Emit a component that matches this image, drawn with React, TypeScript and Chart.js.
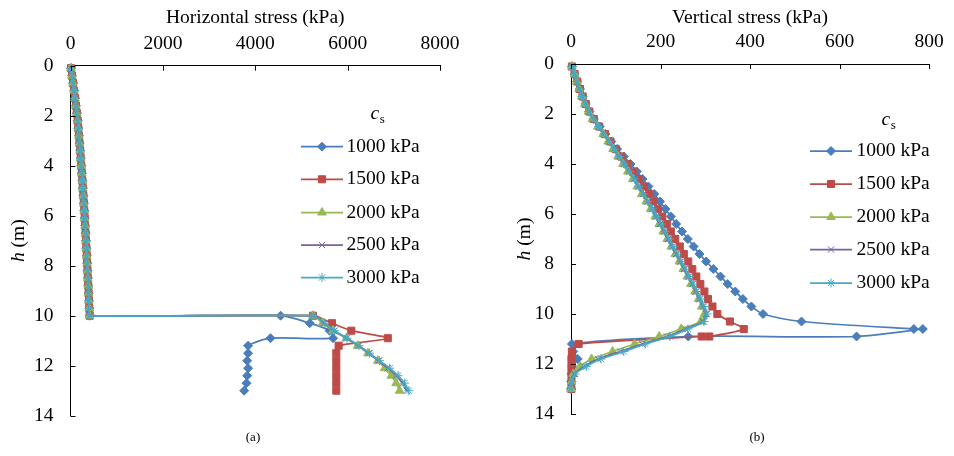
import React, { useEffect, useRef } from 'react';
import { Chart, registerables } from 'chart.js';
import { drawPoint } from 'chart.js/helpers';

Chart.register(...registerables);

const FONT = '"Liberation Serif", "Times New Roman", serif';
const FS = 19.5;

// ---------- shared categories ----------
const seriesNames = ['1000 kPa', '1500 kPa', '2000 kPa', '2500 kPa', '3000 kPa'];
const hTicks = [0, 2, 4, 6, 8, 10, 12, 14];
const horizTicks = [0, 2000, 4000, 6000, 8000];
const vertTicks = [0, 200, 400, 600, 800];

// depth of points above the interface (m)
const depthShallow = [0.1, 0.4, 0.7, 1.0, 1.3, 1.6, 1.9, 2.2, 2.5, 2.8, 3.1, 3.4, 3.7, 4.0, 4.3, 4.6, 4.9, 5.2, 5.5, 5.8, 6.1, 6.4, 6.7, 7.0, 7.3, 7.6, 7.9, 8.2, 8.5, 8.8, 9.1, 9.4, 9.7, 10.0];

// ---------- (a) horizontal stress (kPa) ----------
const hzShallow1000 = [12, 34, 56, 78, 99, 119, 139, 156, 170, 184, 197, 210, 222, 234, 246, 257, 268, 279, 289, 299, 309, 318, 327, 336, 345, 353, 361, 369, 377, 385, 393, 401, 408, 416];
const hzShallow1500 = [11, 33, 55, 77, 98, 118, 138, 155, 169, 183, 196, 209, 221, 233, 245, 256, 267, 278, 288, 298, 308, 317, 326, 335, 344, 352, 360, 368, 376, 384, 392, 400, 407, 415];
const hzShallow2000 = [9, 31, 53, 75, 96, 116, 136, 153, 167, 181, 194, 207, 219, 231, 243, 254, 265, 276, 286, 296, 306, 315, 324, 333, 342, 350, 358, 366, 374, 382, 390, 398, 405, 413];
const hzShallow2500 = [10, 32, 54, 76, 97, 117, 137, 154, 168, 182, 195, 208, 220, 232, 244, 255, 266, 277, 287, 297, 307, 316, 325, 334, 343, 351, 359, 367, 375, 383, 391, 399, 406, 414];
const hzShallow3000 = [10, 32, 54, 76, 97, 117, 137, 154, 168, 182, 195, 208, 220, 232, 244, 255, 266, 277, 287, 297, 307, 316, 325, 334, 343, 351, 359, 367, 375, 383, 391, 399, 406, 414];

const hzDepthDeep1000 = [10.0, 10.3, 10.6, 10.9, 10.9, 11.2, 11.5, 11.8, 12.1, 12.4, 12.7, 13.0];
const hzDeep1000 = [4550, 5180, 5610, 5685, 4330, 3845, 3845, 3825, 3845, 3825, 3810, 3760];
const hzDepthDeep = [10.0, 10.3, 10.6, 10.9, 11.2, 11.5, 11.8, 12.1, 12.4, 12.7, 13.0];
const hzDeep1500 = [5250, 5660, 6080, 6870, 5805, 5755, 5755, 5755, 5755, 5755, 5755];
const hzDeep2000 = [5250, 5455, 5685, 5970, 6220, 6440, 6655, 6800, 6945, 7050, 7125];
const hzDeep2500 = [5250, 5495, 5710, 5975, 6235, 6460, 6670, 6870, 7050, 7190, 7280];
const hzDeep3000 = [5250, 5505, 5720, 5985, 6245, 6475, 6690, 6910, 7090, 7230, 7325];

// ---------- (b) vertical stress (kPa) ----------
const vtShallow1000 = [2, 8, 14, 20, 26, 33, 41, 51, 64, 77, 90, 103, 118, 133, 147, 160, 173, 186, 199, 211, 223, 235, 248, 261, 274, 287, 302, 318, 334, 350, 367, 384, 403, 429];
const vtShallow1500 = [2, 8, 14, 20, 26, 33, 41, 51, 63, 76, 88, 100, 112, 125, 138, 151, 163, 174, 184, 194, 204, 214, 223, 233, 243, 252, 262, 271, 280, 289, 298, 306, 316, 327];
const vtShallow2000 = [2, 8, 13, 18, 24, 31, 39, 48, 60, 72, 83, 94, 105, 116, 127, 138, 148, 158, 168, 178, 188, 197, 206, 215, 224, 233, 242, 251, 260, 268, 277, 285, 292, 298];
const vtShallow2500 = [2, 8, 13, 19, 25, 32, 40, 50, 61, 73, 85, 96, 107, 119, 130, 141, 151, 161, 171, 181, 190, 199, 208, 217, 226, 235, 244, 253, 262, 271, 279, 287, 295, 302];
const vtShallow3000 = [2, 8, 13, 19, 25, 32, 40, 50, 62, 74, 86, 97, 108, 120, 131, 142, 152, 162, 172, 182, 192, 201, 210, 219, 228, 237, 246, 255, 264, 273, 281, 289, 297, 304];

const vtDepthDeep1000 = [10.3, 10.6, 10.6, 10.9, 10.9, 11.2, 11.5, 11.8, 12.1, 12.4, 12.7, 13.0];
const vtDeep1000 = [515, 766, 786, 638, 262, 2, 5, 15, 3, 1, 0, 0];
const vtDepthDeep1500 = [10.3, 10.6, 10.9, 10.9, 11.2, 11.5, 11.8, 12.1, 12.4, 12.7, 13.0];
const vtDeep1500 = [355, 386, 309, 292, 17, 2, 1, 1, 1, 1, 1];
const vtDepthDeep = [10.3, 10.6, 10.9, 11.2, 11.5, 11.8, 12.1, 12.4, 12.7, 13.0];
const vtDeep2000 = [290, 246, 197, 142, 93, 46, 20, 5, 1, 0];
const vtDeep2500 = [294, 256, 214, 159, 110, 60, 29, 7, 1, 0];
const vtDeep3000 = [297, 261, 221, 166, 118, 67, 34, 9, 2, 0];

// ---------- styles ----------
const lineColors = ['#4A7EBB', '#BE4B48', '#98B954', '#7D60A0', '#46AAC5'];
const pointStyles = ['rectRot', 'rect', 'triangle', 'crossRot', 'star'];
const pointRadii = [4.5, 5, 5, 4.5, 4.5];

function joinSeries(d1: number[], v1: number[], d2: number[], v2: number[]) {
  return d1.map((h, k) => ({ x: v1[k], y: h })).concat(d2.map((h, k) => ({ x: v2[k], y: h })));
}

const horizData = [
  joinSeries(depthShallow, hzShallow1000, hzDepthDeep1000, hzDeep1000),
  joinSeries(depthShallow, hzShallow1500, hzDepthDeep, hzDeep1500),
  joinSeries(depthShallow, hzShallow2000, hzDepthDeep, hzDeep2000),
  joinSeries(depthShallow, hzShallow2500, hzDepthDeep, hzDeep2500),
  joinSeries(depthShallow, hzShallow3000, hzDepthDeep, hzDeep3000),
];
const vertData = [
  joinSeries(depthShallow, vtShallow1000, vtDepthDeep1000, vtDeep1000),
  joinSeries(depthShallow, vtShallow1500, vtDepthDeep1500, vtDeep1500),
  joinSeries(depthShallow, vtShallow2000, vtDepthDeep, vtDeep2000),
  joinSeries(depthShallow, vtShallow2500, vtDepthDeep, vtDeep2500),
  joinSeries(depthShallow, vtShallow3000, vtDepthDeep, vtDeep3000),
];

type Cfg = {
  data: { x: number; y: number }[][];
  xTitle: string;
  xMax: number;
  xTicks: number[];
  topH: number;
  leftW: number;
  padRight: number;
  padBottom: number;
  yTitleX: number;
  legend: { x1: number; x2: number; textX: number; rows: number[]; titleX: number; titleBase: number };
};

function decorPlugin(cfg: Cfg) {
  return {
    id: 'decor',
    afterDraw(chart: any) {
      const ctx: CanvasRenderingContext2D = chart.ctx;
      const xs = chart.scales.x;
      const ys = chart.scales.y;
      const area = chart.chartArea;
      ctx.save();
      // inner tick marks
      ctx.strokeStyle = '#000';
      ctx.lineWidth = 1;
      ctx.beginPath();
      for (const v of cfg.xTicks) {
        const px = Math.round(xs.getPixelForValue(v)) + 0.5;
        ctx.moveTo(px, area.top);
        ctx.lineTo(px, area.top + 5);
      }
      for (const v of hTicks) {
        const py = Math.round(ys.getPixelForValue(v)) + 0.5;
        ctx.moveTo(area.left, py);
        ctx.lineTo(area.left + 5, py);
      }
      ctx.stroke();

      // y title  "h (m)"
      const italic = `italic ${FS}px ${FONT}`;
      const normal = `${FS}px ${FONT}`;
      ctx.save();
      ctx.translate(cfg.yTitleX, (area.top + area.bottom) / 2);
      ctx.rotate(-Math.PI / 2);
      ctx.fillStyle = '#000';
      ctx.textBaseline = 'middle';
      ctx.textAlign = 'left';
      ctx.font = italic;
      const w1 = ctx.measureText('h').width;
      ctx.font = normal;
      const w2 = ctx.measureText(' (m)').width;
      const x0 = -(w1 + w2) / 2;
      ctx.font = italic;
      ctx.fillText('h', x0, 0);
      ctx.font = normal;
      ctx.fillText(' (m)', x0 + w1, 0);
      ctx.restore();

      // legend
      const lg = cfg.legend;
      for (let i = 0; i < seriesNames.length; i++) {
        const y = lg.rows[i];
        ctx.strokeStyle = lineColors[i];
        ctx.lineWidth = 1.75;
        ctx.beginPath();
        ctx.moveTo(lg.x1, y);
        ctx.lineTo(lg.x2, y);
        ctx.stroke();
        ctx.fillStyle = lineColors[i];
        ctx.strokeStyle = lineColors[i];
        ctx.lineWidth = 1;
        drawPoint(ctx, { pointStyle: pointStyles[i] as any, radius: pointRadii[i], rotation: 0, borderWidth: 1 } as any, (lg.x1 + lg.x2) / 2, y);
        ctx.fillStyle = '#000';
        ctx.font = normal;
        ctx.textBaseline = 'middle';
        ctx.textAlign = 'left';
        ctx.fillText(seriesNames[i], lg.textX, y);
      }
      ctx.fillStyle = '#000';
      ctx.textBaseline = 'alphabetic';
      ctx.textAlign = 'left';
      ctx.font = italic;
      ctx.fillText('c', lg.titleX, lg.titleBase);
      const cw = ctx.measureText('c').width;
      ctx.font = `13px ${FONT}`;
      ctx.fillText('s', lg.titleX + cw + 0.5, lg.titleBase + 3.5);
      ctx.restore();
    },
  };
}

function makeConfig(cfg: Cfg): any {
  return {
    type: 'line',
    data: {
      datasets: cfg.data.map((d, i) => ({
        label: seriesNames[i],
        data: d,
        borderColor: lineColors[i],
        backgroundColor: lineColors[i],
        pointBackgroundColor: lineColors[i],
        pointBorderColor: lineColors[i],
        pointStyle: pointStyles[i],
        pointRadius: pointRadii[i],
        pointHoverRadius: pointRadii[i],
        pointBorderWidth: 1,
        borderWidth: 1.75,
        tension: 0.25,
        clip: false,
        order: 5 - i,
      })),
    },
    options: {
      responsive: false,
      animation: false,
      events: [],
      layout: { padding: { left: 0, top: 0, right: cfg.padRight, bottom: cfg.padBottom } },
      plugins: { legend: { display: false }, tooltip: { enabled: false } },
      scales: {
        x: {
          type: 'linear',
          position: 'top',
          min: 0,
          max: cfg.xMax,
          grid: { display: false, drawTicks: false },
          border: { display: true, color: '#000', width: 1 },
          ticks: {
            color: '#000',
            font: { family: FONT, size: FS },
            padding: 10.3,
            autoSkip: false,
            maxRotation: 0,
            callback: (v: any) => String(v),
          },
          title: {
            display: true,
            text: cfg.xTitle,
            color: '#000',
            font: { family: FONT, size: FS },
            padding: { top: 5.8, bottom: 0 },
          },
          afterBuildTicks: (s: any) => {
            s.ticks = cfg.xTicks.map((v) => ({ value: v }));
          },
          afterFit: (s: any) => {
            s.height = cfg.topH;
          },
        },
        y: {
          type: 'linear',
          position: 'left',
          reverse: true,
          min: 0,
          max: 14,
          grid: { display: false, drawTicks: false },
          border: { display: true, color: '#000', width: 1 },
          ticks: {
            color: '#000',
            font: { family: FONT, size: FS },
            padding: 17,
            autoSkip: false,
            callback: (v: any) => String(v),
          },
          title: { display: false },
          afterBuildTicks: (s: any) => {
            s.ticks = hTicks.map((v) => ({ value: v }));
          },
          afterFit: (s: any) => {
            s.width = cfg.leftW;
          },
        },
      },
    },
    plugins: [decorPlugin(cfg)],
  };
}

const leftCfg: Cfg = {
  data: horizData,
  xTitle: 'Horizontal stress (kPa)',
  xMax: 8000,
  xTicks: horizTicks,
  topH: 65.7,
  leftW: 70.5,
  padRight: 37,
  padBottom: 40.3,
  yTitleX: 19,
  legend: { x1: 301, x2: 343, textX: 346.5, rows: [146.7, 179.3, 212.5, 245, 277.5], titleX: 370.5, titleBase: 119 },
};

const rightCfg: Cfg = {
  data: vertData,
  xTitle: 'Vertical stress (kPa)',
  xMax: 800,
  xTicks: vertTicks,
  topH: 64,
  leftW: 94,
  padRight: 18.3,
  padBottom: 42,
  yTitleX: 47.5,
  legend: { x1: 333, x2: 375, textX: 379.5, rows: [151, 184, 217, 249.5, 283], titleX: 404.5, titleBase: 125 },
};

const captionStyle = (cx: number): React.CSSProperties => ({
  position: 'absolute',
  left: cx - 50,
  width: 100,
  top: 429,
  textAlign: 'center',
  fontFamily: FONT,
  fontSize: 13,
  lineHeight: '16px',
  color: '#000',
});

export default function App() {
  const leftRef = useRef<HTMLCanvasElement>(null);
  const rightRef = useRef<HTMLCanvasElement>(null);
  useEffect(() => {
    const c1 = new Chart(leftRef.current as HTMLCanvasElement, makeConfig(leftCfg));
    const c2 = new Chart(rightRef.current as HTMLCanvasElement, makeConfig(rightCfg));
    return () => {
      c1.destroy();
      c2.destroy();
    };
  }, []);
  return (
    <div style={{ position: 'absolute', left: 0, top: 0, width: 954, height: 456, background: '#fff' }}>
      <canvas ref={leftRef} width={477} height={456} style={{ position: 'absolute', left: 0, top: 0 }} />
      <canvas ref={rightRef} width={477} height={456} style={{ position: 'absolute', left: 477, top: 0 }} />
      <div style={captionStyle(253)}>(a)</div>
      <div style={captionStyle(757)}>(b)</div>
    </div>
  );
}
